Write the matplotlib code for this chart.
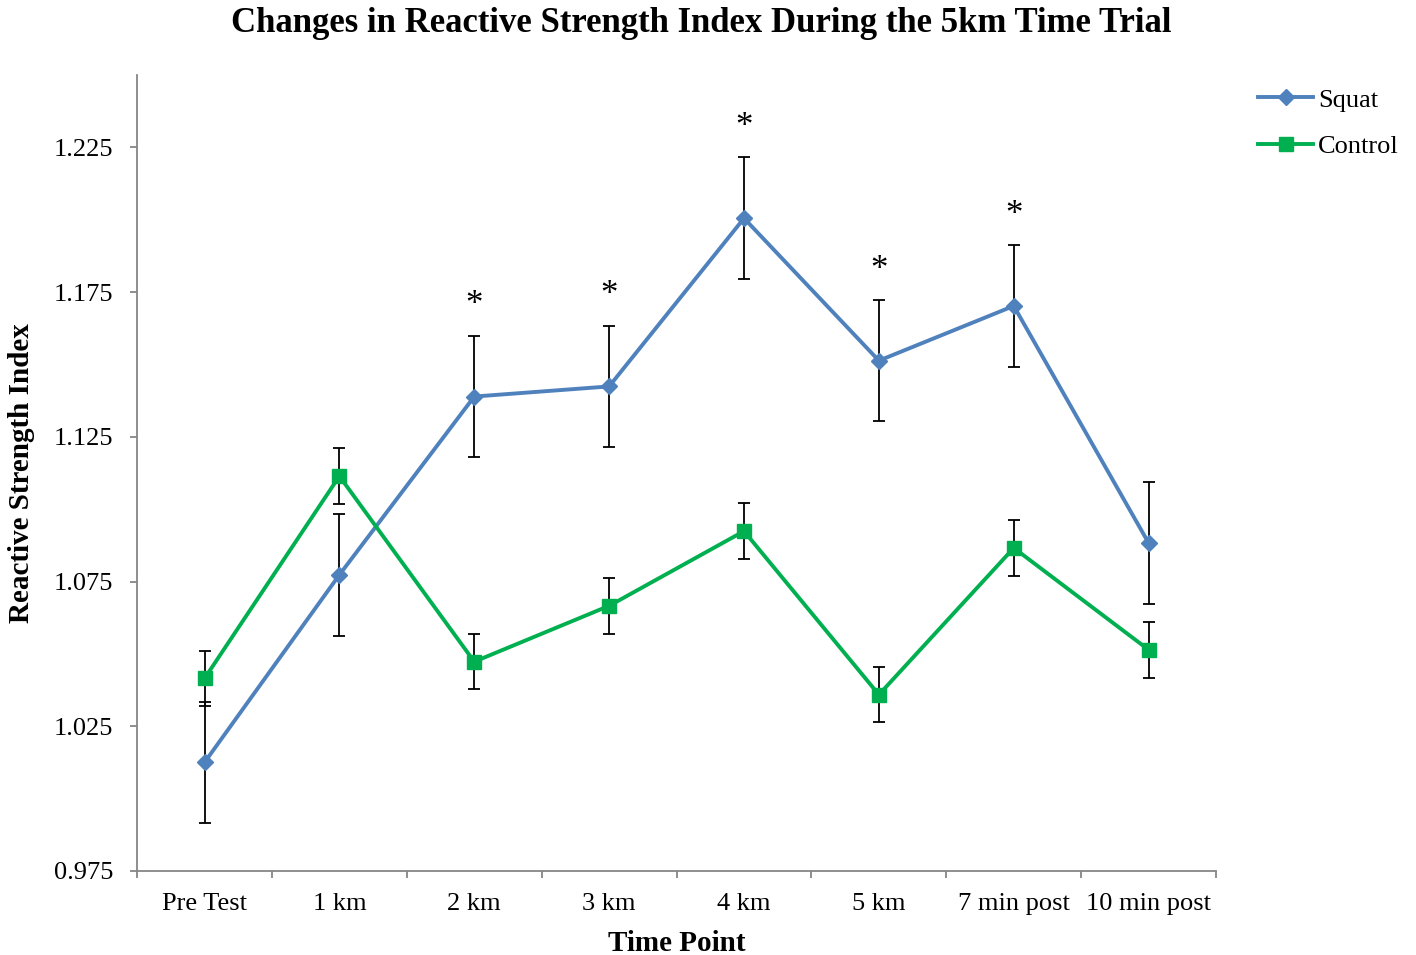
import numpy as np
import matplotlib.pyplot as plt

plt.rcParams['font.family'] = ['Liberation Serif', 'DejaVu Serif']

time_points = ["Pre Test", "1 km", "2 km", "3 km", "4 km", "5 km", "7 min post", "10 min post"]
squat = [1.0125, 1.0773, 1.1389, 1.1424, 1.2005, 1.1513, 1.1702, 1.0883]
squat_err = [0.021, 0.021, 0.021, 0.021, 0.021, 0.021, 0.021, 0.021]
control = [1.0415, 1.1114, 1.0473, 1.0666, 1.0924, 1.0359, 1.0866, 1.0514]
control_err = [0.0096, 0.0096, 0.0096, 0.0096, 0.0096, 0.0096, 0.0096, 0.0096]
# points marked significant (squat series)
sig_points = ["2 km", "3 km", "4 km", "5 km", "7 min post"]

blue = '#4F81BD'
green = '#00B050'
axis_grey = '#868686'

fig = plt.figure(figsize=(14.16, 9.55), dpi=100)
ax = fig.add_axes([0.0968, 0.088, 0.762, 0.8335])

x = np.arange(len(time_points))

ax.errorbar(x, squat, yerr=squat_err, fmt='none', ecolor='black', elinewidth=1.3,
            capsize=4.5, capthick=1.3, zorder=2)
ax.errorbar(x, control, yerr=control_err, fmt='none', ecolor='black', elinewidth=1.3,
            capsize=4.5, capthick=1.3, zorder=2)
ax.plot(x, squat, color=blue, linewidth=2.8, marker='D', markersize=8.5,
        label='Squat', zorder=3)
ax.plot(x, control, color=green, linewidth=2.8, marker='s', markersize=9.5,
        label='Control', zorder=3)

for lbl in sig_points:
    i = time_points.index(lbl)
    ax.annotate('*', xy=(i, squat[i] + squat_err[i]), xytext=(0, 21.5),
                textcoords='offset points', ha='center', va='center', fontsize=25)

ax.set_xlim(-0.5, len(time_points) - 0.5)
ax.set_ylim(0.975, 1.25)
yt = np.arange(0.975, 1.2251, 0.05)
ax.set_yticks(yt)
ax.set_yticklabels([f"{v:.3f}" for v in yt])
ax.set_xticks(x)
ax.set_xticklabels(time_points)
ax.set_xticks(np.arange(-0.5, len(time_points)), minor=True)
ax.tick_params(axis='x', which='major', length=0, labelsize=19, pad=16)
ax.tick_params(axis='x', which='minor', length=5, width=1.3, color=axis_grey)
ax.tick_params(axis='y', length=5, width=1.3, color=axis_grey, labelsize=19, pad=12)

for side in ['top', 'right']:
    ax.spines[side].set_visible(False)
for side in ['left', 'bottom']:
    ax.spines[side].set_color(axis_grey)
    ax.spines[side].set_linewidth(1.3)

ax.set_xlabel('Time Point', fontsize=21, fontweight='bold', labelpad=11)
ax.set_ylabel('Reactive Strength Index', fontsize=21, fontweight='bold', labelpad=14)
fig.text(701 / 1416, 1 - 23 / 955, 'Changes in Reactive Strength Index During the 5km Time Trial',
         fontsize=25, fontweight='bold', ha='center', va='center')

ax.legend(loc='upper left', bbox_to_anchor=(1.039, 0.9835), frameon=False, fontsize=19,
          handlelength=2.08, handletextpad=0.2, labelspacing=0.87, borderaxespad=0,
          borderpad=0)

fig.savefig('out.png', dpi=100)
